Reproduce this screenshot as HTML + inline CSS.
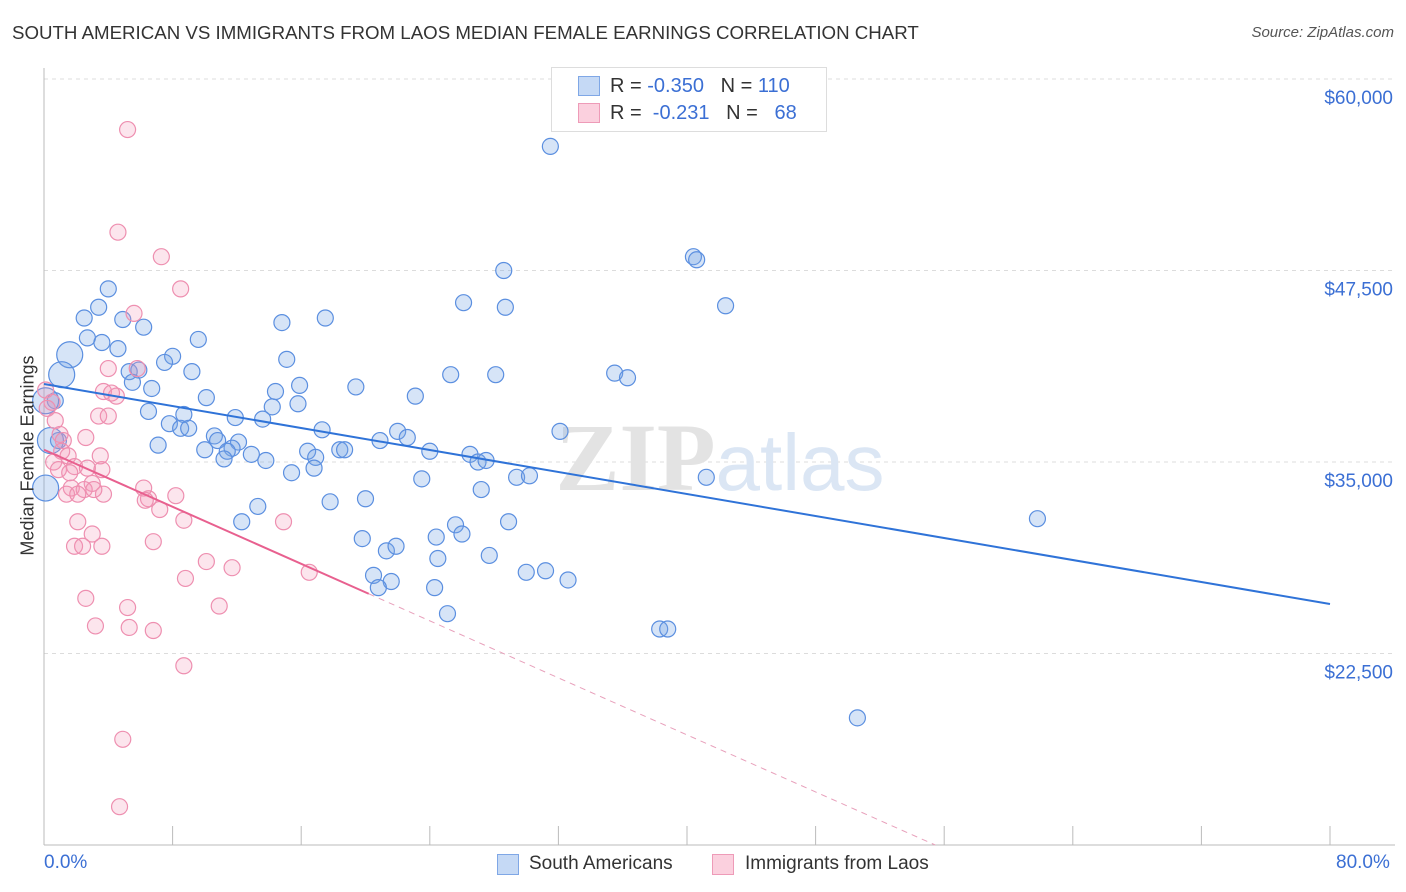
<!DOCTYPE html>
<html><head><meta charset="utf-8">
<style>
body{margin:0;background:#fff;font-family:"Liberation Sans",sans-serif;}
#wrap{position:relative;width:1406px;height:892px;overflow:hidden;}
.t{position:absolute;white-space:nowrap;}
</style></head>
<body>
<div id="wrap">
<div class="t" style="left:12px;top:22px;font-size:18.7px;color:#333;">SOUTH AMERICAN VS IMMIGRANTS FROM LAOS MEDIAN FEMALE EARNINGS CORRELATION CHART</div>
<div class="t" style="right:12px;top:24px;font-size:15px;color:#555;font-style:italic;">Source: ZipAtlas.com</div>
<svg id="chart" width="1406" height="892" style="position:absolute;left:0;top:0"></svg>
</div>
<script>
const blueX=[31.5,28.6,40.4,40.6,42.4,26.1,28.7,4.0,3.4,2.5,4.9,6.2,14.8,17.5,2.7,3.6,1.6,4.6,9.6,8.0,7.5,15.1,9.2,5.3,5.9,5.5,6.7,10.1,14.4,15.9,19.4,23.1,25.3,28.1,35.5,36.3,1.1,0.7,6.5,8.7,14.2,15.8,11.9,13.6,7.8,8.5,9.0,17.3,22.0,22.6,20.9,32.1,0.9,7.1,10.6,10.8,12.1,11.7,10.0,11.4,11.2,12.9,13.8,16.4,16.9,18.4,18.7,24.0,26.5,27.0,27.5,15.4,16.8,23.5,27.2,29.4,30.2,41.2,13.3,17.8,20.0,24.4,25.6,26.0,19.8,21.3,21.9,24.5,27.7,28.9,20.5,21.6,20.8,30.0,31.2,32.6,24.3,25.1,38.3,38.8,50.6,61.8,0.1,12.3,0.4,0.1];
const blueY=[55600,47500,48400,48200,45200,45400,45100,46300,45100,44400,44300,43800,44100,44400,43100,42800,42000,42400,43000,41900,41500,41700,40900,40900,41000,40200,39800,39200,39600,40000,39900,39300,40700,40700,40800,40500,40700,39000,38300,38100,38600,38800,37900,37800,37500,37200,37200,37100,37000,36600,36400,37000,36400,36100,36700,36400,36300,35900,35800,35700,35200,35500,35100,35700,35300,35800,35800,35700,35500,35000,35100,34300,34600,33900,33200,34000,34100,34000,32100,32400,32600,30100,30900,30300,30000,29200,29500,28700,28900,31100,27600,27200,26800,27800,27900,27300,26800,25100,24100,24100,18300,31300,33300,31100,36400,39000];
const blueBig=[0,0,0,0,0,0,0,0,0,0,0,0,0,0,0,0,1,0,0,0,0,0,0,0,0,0,0,0,0,0,0,0,0,0,0,0,1,0,0,0,0,0,0,0,0,0,0,0,0,0,0,0,0,0,0,0,0,0,0,0,0,0,0,0,0,0,0,0,0,0,0,0,0,0,0,0,0,0,0,0,0,0,0,0,0,0,0,0,0,0,0,0,0,0,0,0,0,0,0,0,0,0,1,0,1,1];
const pinkX=[5.2,4.6,7.3,8.5,5.6,0.1,0.5,0.2,0.7,1.0,1.2,1.1,1.5,0.6,1.9,0.9,2.7,3.6,3.0,1.7,2.5,1.4,2.1,3.7,3.1,3.5,3.4,2.6,4.0,3.7,4.5,4.2,5.8,4.0,6.2,6.5,6.3,7.2,8.2,8.7,14.9,2.1,1.9,2.4,3.6,3.0,6.8,2.6,5.2,3.2,5.3,6.8,8.8,10.1,11.7,10.9,16.5,8.7,4.9,4.7,1.6];
const pinkY=[56700,50000,48400,46300,44700,39700,38900,38500,37700,36800,36400,35700,35400,35000,34700,34500,34600,34500,33600,33300,33200,32900,32900,32900,33200,35400,38000,36600,38000,39600,39300,39500,41100,41100,33300,32600,32500,31900,32800,31200,31100,31100,29500,29500,29500,30300,29800,26100,25500,24300,24200,24000,27400,28500,28100,25600,27800,21700,16900,12500,34300];
const yTicks=[22500,35000,47500,60000];
const yTickLabels=["$22,500","$35,000","$47,500","$60,000"];
const blueTrend=[40090,25730];
const pinkTrend=[35800,26400];
const pinkTrendEnd=20.2;

const X0=44,X1=1330,Y0=845,YPX=191.5;
const sx=v=>X0+(v/80)*(X1-X0);
const sy=v=>Y0-(v-10000)/12500*YPX;
const svg=document.getElementById('chart');
const NS='http://www.w3.org/2000/svg';
function mk(tag,attrs){const e=document.createElementNS(NS,tag);for(const k in attrs)e.setAttribute(k,attrs[k]);svg.appendChild(e);return e;}

yTicks.forEach((v,i)=>{
  const g=mk('line',{x1:X0,x2:1395,y1:sy(v),y2:sy(v),stroke:'#dcdcdc','stroke-dasharray':'4,4','stroke-width':1});
  
  
  const t=mk('text',{x:1393,y:sy(v)+25,'text-anchor':'end','font-size':19,fill:'#3b6fd4','font-family':'Liberation Sans, sans-serif'});
  t.textContent=yTickLabels[i];
  
  
});
const topGrid=mk('line',{x1:X0,x2:1395,y1:79,y2:79,stroke:'#dcdcdc','stroke-dasharray':'4,4'});


const ax=mk('line',{x1:X0,x2:X0,y1:68,y2:Y0,stroke:'#bbb'});


const bx=mk('line',{x1:X0,x2:1395,y1:Y0,y2:Y0,stroke:'#bbb'});


for(let p=0;p<=80;p+=8){
  const tk=mk('line',{x1:sx(p),x2:sx(p),y1:826,y2:Y0,stroke:'#bbb'});
  
  
}
const wm=mk('text',{x:720,y:490,'text-anchor':'middle','font-size':96,fill:'#e6e9ee','font-family':'Liberation Serif, serif'});
wm.innerHTML='<tspan font-weight="bold" fill="#e3e3e3">ZIP</tspan><tspan fill="#dbe6f4" font-family="Liberation Sans, sans-serif" font-size="80">atlas</tspan>';



blueX.forEach((x,i)=>{
  const r=blueBig[i]?13:8;
  const c=mk('circle',{cx:sx(x),cy:sy(blueY[i]),r:r,fill:'rgba(120,165,230,0.3)',stroke:'#5b8fe0','stroke-width':1.2});
  
  
});
pinkX.forEach((x,i)=>{
  const c=mk('circle',{cx:sx(x),cy:sy(pinkY[i]),r:8,fill:'rgba(245,150,185,0.25)',stroke:'#ee8fb0','stroke-width':1.2});
  
  
});
const bl=mk('line',{x1:sx(0),y1:sy(blueTrend[0]),x2:sx(80),y2:sy(blueTrend[1]),stroke:'#2f73d8','stroke-width':2});


const slope=(pinkTrend[1]-pinkTrend[0])/pinkTrendEnd;
const xEnd=(10000-pinkTrend[0])/slope;
const pd=mk('line',{x1:sx(pinkTrendEnd),y1:sy(pinkTrend[1]),x2:sx(xEnd),y2:sy(10000),stroke:'#e8a0bb','stroke-width':1,'stroke-dasharray':'6,5'});


const pl=mk('line',{x1:sx(0),y1:sy(pinkTrend[0]),x2:sx(pinkTrendEnd),y2:sy(pinkTrend[1]),stroke:'#e8608f','stroke-width':2});


</script>
<div class="t" style="left:-82px;top:445px;font-size:18px;color:#333;transform:rotate(-90deg);transform-origin:center;width:220px;text-align:center;">Median Female Earnings</div>
<div class="t" style="left:44px;top:852px;font-size:19px;color:#3b6fd4;">0.0%</div>
<div class="t" style="left:1336px;top:852px;font-size:19px;color:#3b6fd4;">80.0%</div>
<div style="position:absolute;left:551px;top:67px;width:274px;height:63px;border:1px solid #ddd;background:#fff;font-size:20px;color:#333;">
 <div style="position:absolute;left:26px;top:8px;width:20px;height:18px;background:#c5d9f5;border:1px solid #7fa7e6;"></div>
 <div class="t" style="left:58px;top:7px;">R = <span style="color:#3b6fd4">-0.350</span>&nbsp;&nbsp;&nbsp;N = <span style="color:#3b6fd4">110</span></div>
 <div style="position:absolute;left:26px;top:35px;width:20px;height:18px;background:#fbd0de;border:1px solid #ee9bb8;"></div>
 <div class="t" style="left:58px;top:34px;">R = &nbsp;<span style="color:#3b6fd4">-0.231</span>&nbsp;&nbsp;&nbsp;N = &nbsp;&nbsp;<span style="color:#3b6fd4">68</span></div>
</div>
<div style="position:absolute;left:497px;top:853px;font-size:19px;color:#333;">
 <div style="position:absolute;left:0;top:1px;width:20px;height:19px;background:#c5d9f5;border:1px solid #7fa7e6;"></div>
 <div class="t" style="left:32px;top:0;">South Americans</div>
</div>
<div style="position:absolute;left:712px;top:853px;font-size:19px;color:#333;">
 <div style="position:absolute;left:0;top:1px;width:20px;height:19px;background:#fbd0de;border:1px solid #ee9bb8;"></div>
 <div class="t" style="left:33px;top:0;">Immigrants from Laos</div>
</div>
</body></html>
